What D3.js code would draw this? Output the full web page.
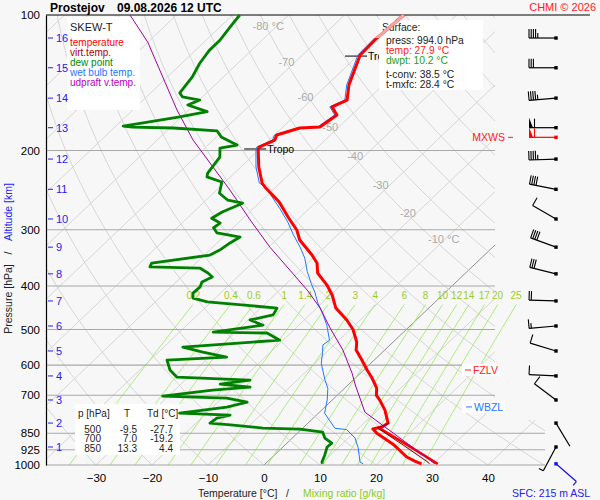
<!DOCTYPE html>
<html>
<head>
<meta charset="utf-8">
<script src="https://cdn.jsdelivr.net/npm/d3@7/dist/d3.min.js"></script>
<style>
  body { margin: 0; background: #f7f7f7; }
  svg text { font-family: "Liberation Sans", Arial, sans-serif; }
</style>
</head>
<body>
<div id="chart"></div>
<script>
// sounding data (pressure hPa / temperature degC)
const tempP = [100,112.5,122.7,143,154.5,160,166.8,177.4,178.3,184.8,189.6,196.5,199.5,217.7,236.3,242.4,260.4,282.6,300.5,316.3,341.5,355.8,374.5,398.2,419,448,476.3,500,533,555.3,584.5,615.2,640.9,674.6,700,717.3,755,807,822,832,850,903,960,980,994];
const tempT = [-59.4,-59.9,-59.7,-56.1,-53.6,-55.0,-52.6,-53.4,-56.8,-59.6,-59.0,-60.5,-60.1,-56.8,-53.2,-51.6,-46.6,-41.9,-38.2,-35.8,-30.8,-28.4,-26.4,-22.5,-19.7,-16.6,-12.4,-9.5,-6.5,-5.1,-2.2,0.6,3.0,5.7,7.0,8.5,11.3,14.3,14.0,12.7,14.2,19.5,24.0,26.2,27.9];

const dewP = [100,106,114,120,128,137,149,152,154.5,158.5,164,168.5,176.5,177.4,178.3,181,187,194.5,197.5,207,224.5,229,235,249,258,262,274,283,290,297,305,311.5,321,333,341.5,356,363,365,374.5,382,392,402,415,425.6,434,448,464,476,489,506.5,509,528,547,561,576,584.5,615,638,648,661,671,682,703,710,725,743.5,767,775,787,807,815,828,832,845,871,894,912,951,985,994];
const dewT = [-88.7,-88.2,-87.5,-87.5,-86.8,-85.6,-84.8,-83.6,-79.9,-81.1,-76.4,-80.3,-88.7,-86.8,-79.4,-71.0,-69.0,-64.8,-67.3,-65.6,-64.8,-64.2,-60.6,-58.9,-56.1,-52.9,-54.9,-55.6,-53.2,-53.5,-51.9,-47.0,-47.7,-48.2,-49.0,-57.9,-57.5,-48.4,-46.0,-44.5,-45.4,-44.8,-44.9,-44.0,-40.7,-27.1,-26.5,-29.7,-26.4,-34.0,-24.2,-20.6,-36.6,-32.1,-26.9,-37.0,-34.6,-32.0,-18.4,-23.0,-17.1,-23.2,-31.0,-19.2,-14.8,-17.5,-24.8,-15.4,-17.2,-17.5,-13.0,-7.1,-0.3,4.3,5.8,8.0,7.9,9.0,9.8,10.2];

const wetP = [112.5,122.7,143,154.5,160,166.8,177.4,178.3,184.8,189.6,196.5,199.5,217.7,236.3,241,255,269,288.5,308,328,347,372,395,415,437,460,489,528,541,563,595,648,675,717,767,829,834,871,916,985,994];
const wetT = [-60.3,-60.1,-56.5,-54.0,-55.4,-53.0,-53.8,-57.2,-60.0,-59.4,-60.9,-60.5,-57.3,-53.7,-51.9,-48.5,-45.3,-41.3,-37.9,-34.4,-31.5,-28.5,-25.6,-23.1,-20.7,-18.0,-15.0,-11.7,-12.0,-10.6,-8.8,-5.0,-3.0,-0.9,1.1,5.8,8.1,11.2,13.6,16.6,17.5];

const virtP = [807,828,903,985,994];
const virtT = [14.5,13.4,21.1,28.7,29.3];

const sfcLayerP = [824,903,994];
const sfcLayerT = [13.2,21.9,30.8];

const parcP = [100,115,162.6,189.6,245,285.5,328,369,408.5,448,496,555,625,664,763,994];
const parcT = [-108.3,-100.0,-82.1,-73.6,-57.6,-48.4,-39.8,-31.9,-25.1,-19.4,-13.9,-7.5,-1.5,1.3,8.1,30.3];

// winds at each km of altitude
const altKm = [16,15,14,13,12,11,10,9,8,7,6,5,4,3,2,1];
const altP = [112.5,131,153,178,209,244,284,328,376,432,491,558,634,717,807,912];
const windDir = [270,270,265,270,268,281,300,290,284,272,265,287,273,307,149,208];
const windSpd = [45,30,45,60,45,40,10,40,30,20,15,10,10,10,2,5];
const mxwsP = 187, mxwsDir = 270, mxwsSpd = 60;
const sfcP = 994, sfcDir = 131, sfcSpd = 5;

// axes / grid values
const pLevels = [100,200,300,400,500,600,700,850,925,1000];
const tTicks = [-30,-20,-10,0,10,20,30,40];
const mixW = [0.2,0.4,0.6,1,1.4,2,3,4,6,8,10,12,14,17,20,25];
const isoLabT = [-80,-70,-60,-50,-40,-30,-20,-10];
const isoLabP = [106,127,152,177,206,239,275,315];

// markers
const tropoP = [198.5,123.4], tropoT = [-60.3,-59.7], tropoLab = ["Tropo","Tro"];
const fzlvP = 615, wbzlP = 743;
const tabP = [500,700,850], tabT = [-9.5,7.0,13.3], tabTd = [-27.7,-19.2,4.4];
const sfcPress = 994.0, sfcTemp = 27.9, sfcDwpt = 10.2, tConv = 38.5, tMxfc = 28.4, elev = 215;

const svg = d3.select("#chart").append("svg").attr("width", 600).attr("height", 500);
svg.append("rect").attr("width", 600).attr("height", 500).attr("fill", "#f7f7f7");

const y = d3.scaleLog().domain([100, 1000]).range([15, 465]);
const xT = d3.scaleLinear().domain([-30, 40]).range([96, 488]);
const skew = 1.05;
const sx = (T, p) => xT(T) + skew * (y(1000) - y(p));
const line = d3.line().x(d => sx(d[1], d[0])).y(d => y(d[0]));

svg.append("clipPath").attr("id", "plotClip")
  .append("path").attr("d", "M46,15H495V420H545V465H46Z");
svg.append("clipPath").attr("id", "topClip")
  .append("rect").attr("x", 0).attr("y", 0).attr("width", 600).attr("height", 38);

// grid: isotherms and dry adiabats
const grid = svg.append("g").attr("clip-path", "url(#plotClip)").attr("fill", "none");
d3.range(-130, 60, 10).forEach(t => {
  grid.append("path").attr("d", line([[1000, t], [100, t]]))
    .attr("stroke", t === 0 ? "#777" : "#d6d6d6").attr("stroke-width", t === 0 ? 0.8 : 1);
});
d3.range(-40, 210, 10).forEach(th => {
  const pts = d3.range(1000, 99, -10).map(p => [p, (th + 273.15) * Math.pow(p / 1000, 0.2857) - 273.15]);
  grid.append("path").attr("d", line(pts)).attr("stroke", "#d6d6d6").attr("stroke-width", 1);
});

// mixing ratio lines
function tdFromW(w, p) {
  const e = w * p / (622 + w);
  const l = Math.log(e / 6.112);
  return 243.5 * l / (17.67 - l);
}
const mixG = svg.append("g");
mixW.forEach(w => {
  const pts = d3.range(1000, 435, -5).map(p => [p, tdFromW(w, p)]);
  mixG.append("path").attr("d", line(pts)).attr("fill", "none")
    .attr("stroke", "#a2e86a").attr("stroke-width", 0.9);
  mixG.append("text").attr("x", sx(tdFromW(w, 430), 430) - 3).attr("y", y(430) - 1)
    .attr("text-anchor", "middle").attr("font-size", 10).attr("fill", "#9ccc2c").text(w);
});

// isotherm labels
isoLabT.forEach((t, i) => {
  svg.append("text").attr("x", sx(t, isoLabP[i]) - (i === 0 ? 24 : 17)).attr("y", y(isoLabP[i]) + 4)
    .attr("font-size", 11).attr("fill", "#aaa")
    .text(t === -80 || t === -10 ? t + " °C" : t);
});

// pressure lines
pLevels.slice(1).forEach(p => {
  svg.append("line").attr("x1", 46).attr("x2", p >= 850 ? 545 : 495)
    .attr("y1", y(p)).attr("y2", y(p)).attr("stroke", "#a8a8a8").attr("stroke-width", 1.1);
});
svg.append("line").attr("x1", 46).attr("x2", 590).attr("y1", 15).attr("y2", 15).attr("stroke", "#000");

// tropopause markers
tropoP.forEach((p, i) => {
  const x = sx(tropoT[i], p), yy = y(p);
  svg.append("line").attr("x1", x - 14).attr("x2", x + 8).attr("y1", yy).attr("y2", yy).attr("stroke", "#000");
  svg.append("text").attr("x", x + 9).attr("y", yy + 4).attr("font-size", 10.5).text(tropoLab[i]);
});

// boxes
const box = (x, yy, w, h) => svg.append("rect").attr("x", x).attr("y", yy).attr("width", w).attr("height", h).attr("fill", "#fff");
box(67, 17, 73, 93);
box(379, 20, 104, 70);
box(75, 404, 105, 51);

const leg = [["SKEW-T", "#222"], ["temperature", "#ff0000"], ["virt.temp.", "#aa0000"], ["dew point", "#008800"], ["wet bulb temp.", "#2277ff"], ["udpraft v.temp.", "#bb00bb"]];
leg.forEach((d, i) => {
  svg.append("text").attr("x", 70).attr("y", i === 0 ? 31 : 36 + i * 10)
    .attr("font-size", i === 0 ? 11 : 10).attr("fill", d[1]).text(d[0]);
});

const sfcTxt = [["Surface:", "#222", 382, 31], ["press: " + sfcPress.toFixed(1) + " hPa", "#222", 386, 44],
  ["temp: " + sfcTemp.toFixed(1) + " °C", "#ff2020", 386, 54], ["dwpt: " + sfcDwpt.toFixed(1) + " °C", "#20a020", 386, 64],
  ["t-conv: " + tConv.toFixed(1) + " °C", "#222", 386, 78], ["t-mxfc: " + tMxfc.toFixed(1) + " °C", "#222", 386, 88]];
sfcTxt.forEach(d => svg.append("text").attr("x", d[2]).attr("y", d[3]).attr("font-size", 10.3).attr("fill", d[1]).text(d[0]));

const tab = svg.append("g").attr("font-size", 10).attr("fill", "#222");
tab.append("text").attr("x", 78).attr("y", 417).text("p [hPa]");
tab.append("text").attr("x", 127).attr("y", 417).attr("text-anchor", "middle").text("T");
tab.append("text").attr("x", 147).attr("y", 417).text("Td [°C]");
tabP.forEach((p, i) => {
  const yy = 432.5 + i * 9.8;
  tab.append("text").attr("x", 101).attr("y", yy).attr("text-anchor", "end").text(p);
  tab.append("text").attr("x", 137).attr("y", yy).attr("text-anchor", "end").text(tabT[i].toFixed(1));
  tab.append("text").attr("x", 173).attr("y", yy).attr("text-anchor", "end").text(tabTd[i].toFixed(1));
});

// level labels
box(462, 364, 38, 12);
box(462, 401, 43, 12);
svg.append("line").attr("x1", 465).attr("x2", 471).attr("y1", y(fzlvP)).attr("y2", y(fzlvP)).attr("stroke", "#ff2020");
svg.append("text").attr("x", 473).attr("y", y(fzlvP) + 4).attr("font-size", 10.5).attr("fill", "#ff2020").text("FZLV");
svg.append("line").attr("x1", 466).attr("x2", 472).attr("y1", y(wbzlP)).attr("y2", y(wbzlP)).attr("stroke", "#2277ff");
svg.append("text").attr("x", 474).attr("y", y(wbzlP) + 4).attr("font-size", 10.5).attr("fill", "#2277ff").text("WBZL");

// profiles
const prof = svg.append("g").attr("fill", "none").attr("stroke-linejoin", "round");
prof.append("path").attr("d", line(d3.zip(wetP, wetT))).attr("stroke", "#2277ff").attr("stroke-width", 1);
prof.append("path").attr("d", line(d3.zip(sfcLayerP, sfcLayerT))).attr("stroke", "#ff0000").attr("stroke-width", 2.6);
prof.append("path").attr("d", line(d3.zip(tempP, tempT))).attr("stroke", "#ff0000").attr("stroke-width", 3);
prof.append("path").attr("d", line(d3.zip(tempP, tempT))).attr("stroke", "#f6a3a3").attr("stroke-width", 3).attr("clip-path", "url(#topClip)");
prof.append("path").attr("d", line(d3.zip(virtP, virtT))).attr("stroke", "#880000").attr("stroke-width", 1);
prof.append("path").attr("d", line(d3.zip(parcP, parcT))).attr("stroke", "#a000a0").attr("stroke-width", 1);
prof.append("path").attr("d", line(d3.zip(dewP, dewT))).attr("stroke", "#008000").attr("stroke-width", 2.8);

// axes
svg.append("g").attr("transform", "translate(46,0)")
  .call(d3.axisLeft(y).tickValues(pLevels).tickSize(0).tickPadding(6).tickFormat(d3.format("d")))
  .call(g => g.attr("font-family", null).attr("font-size", 11.5))
  .call(g => g.select(".domain").attr("stroke", "#000").attr("stroke-width", 1.2));

svg.append("g").attr("transform", "translate(0,471)")
  .call(d3.axisBottom(xT).tickValues(tTicks).tickSize(0).tickPadding(3))
  .call(g => g.attr("font-family", null).attr("font-size", 11.5))
  .call(g => g.select(".domain").remove());

// altitude ticks
altKm.forEach((k, i) => {
  const yy = y(altP[i]);
  svg.append("line").attr("x1", 48).attr("x2", 53).attr("y1", yy).attr("y2", yy).attr("stroke", "#2222ee");
  svg.append("text").attr("x", 56).attr("y", yy + 4).attr("font-size", 11).attr("fill", "#2222ee").text(k);
});

// titles
svg.append("text").attr("x", 50).attr("y", 12).attr("font-size", 12).attr("font-weight", "bold").text("Prostejov");
svg.append("text").attr("x", 117).attr("y", 12).attr("font-size", 12).attr("font-weight", "bold").text("09.08.2026 12 UTC");
svg.append("text").attr("x", 596).attr("y", 11).attr("text-anchor", "end").attr("font-size", 11).attr("fill", "#ff2020").text("CHMI © 2026");

const yTitle = [["Pressure [hPa]", "#222", 299], ["/", "#222", 253], ["Altitude [km]", "#2222ee", 212]];
yTitle.forEach(d => {
  svg.append("text").attr("transform", "translate(12," + d[2] + ") rotate(-90)").attr("text-anchor", "middle")
    .attr("font-size", 10.5).attr("fill", d[1]).text(d[0]);
});
const xTitle = [["Temperature [°C]", "#222", 198], ["/", "#222", 286], ["Mixing ratio [g/kg]", "#88cc22", 303]];
xTitle.forEach(d => {
  svg.append("text").attr("x", d[2]).attr("y", 497).attr("font-size", 10.5).attr("fill", d[1]).text(d[0]);
});

svg.append("text").attr("x", 512).attr("y", 497).attr("font-size", 10.5)
  .attr("fill", "#2222ee").text("SFC: " + elev + " m ASL");

// wind barbs
function drawBarb(g, x0, y0, dir, spd, col) {
  const a = dir * Math.PI / 180, ux = Math.sin(a), uy = -Math.cos(a), vx = -uy, vy = ux;
  const L = 27, ex = x0 + ux * L, ey = y0 + uy * L;
  g.append("line").attr("x1", x0).attr("y1", y0).attr("x2", ex).attr("y2", ey).attr("stroke", col).attr("stroke-width", 1.2);
  g.append("rect").attr("x", x0 - 1.7).attr("y", y0 - 1.7).attr("width", 3.4).attr("height", 3.4).attr("fill", col);
  let s = Math.round(spd / 5) * 5, d = 0;
  const pt = k => [ex - ux * k, ey - uy * k];
  while (s >= 50) {
    const p0 = pt(d), p1 = pt(d + 4);
    g.append("polygon").attr("points", [p0, [p0[0] + vx * 10, p0[1] + vy * 10], p1].map(q => q.join(",")).join(" ")).attr("fill", col);
    d += 5.5; s -= 50;
  }
  while (s >= 10) {
    const p0 = pt(d);
    g.append("line").attr("x1", p0[0]).attr("y1", p0[1]).attr("x2", p0[0] + vx * 9).attr("y2", p0[1] + vy * 9).attr("stroke", col).attr("stroke-width", 1.1);
    d += 2.2; s -= 10;
  }
  if (s >= 5) {
    const p0 = pt(d);
    g.append("line").attr("x1", p0[0]).attr("y1", p0[1]).attr("x2", p0[0] + vx * 5).attr("y2", p0[1] + vy * 5).attr("stroke", col).attr("stroke-width", 1.1);
  }
}
const barbs = svg.append("g");
altP.forEach((p, i) => drawBarb(barbs, 556, y(p), windDir[i], windSpd[i], "#000"));
drawBarb(barbs, 556, y(mxwsP), mxwsDir, mxwsSpd, "#ff0000");
drawBarb(barbs, 556, y(sfcP), sfcDir, sfcSpd, "#1010ee");
svg.append("text").attr("x", 505).attr("y", y(mxwsP) + 4).attr("text-anchor", "end").attr("font-size", 10.5).attr("fill", "#ff2020").text("MXWS");
svg.append("line").attr("x1", 508).attr("x2", 513).attr("y1", y(mxwsP)).attr("y2", y(mxwsP)).attr("stroke", "#ff2020");
</script>
</body>
</html>
